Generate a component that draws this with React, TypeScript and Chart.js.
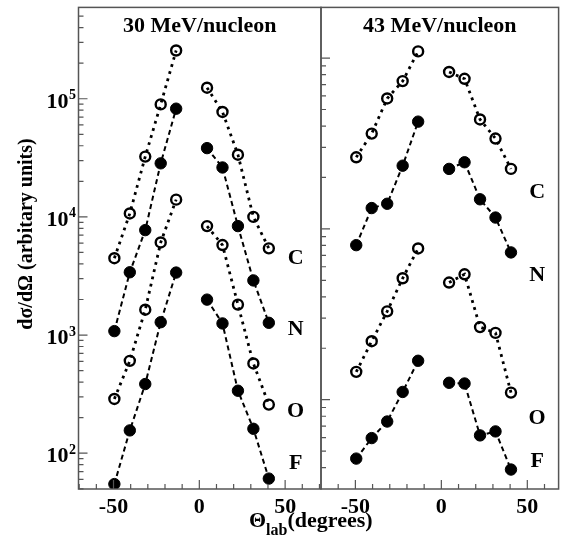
import React, { useEffect, useRef } from 'react';
import { Chart, registerables } from 'chart.js';

Chart.register(...registerables);

const W = 566;
const H = 541;
const FONT = '"Liberation Serif", "Times New Roman", serif';

// scattering angles (degrees, lab)
const angles = [-49.5, -40.5, -31.5, -22.5, -13.5, 4.5, 13.5, 22.5, 31.5, 40.5];
const fragments = ['C', 'N', 'O', 'F'];
const openMarker = [true, false, true, false];

// 30 MeV/nucleon
const c30 = [4470, 10700, 32400, 89600, 256000, 124000, 77300, 33600, 10000, 5420];
const n30 = [1080, 3400, 7730, 28400, 82400, 38200, 26200, 8360, 2900, 1270];
const o30 = [288, 605, 1640, 6080, 14000, 8360, 5780, 1810, 575, 258];
const f30 = [54.8, 156, 385, 1285, 3380, 1995, 1254, 338, 161, 61];

// 43 MeV/nucleon (arbitrary units)
const c43 = [2625, 3613, 5800, 7330, 10940, 8290, 7560, 4370, 3380, 2245];
const n43 = [803, 1324, 1403, 2344, 4245, 2245, 2455, 1490, 1165, 728];
const o43 = [145.5, 220, 329, 514, 768, 485, 542, 266, 246, 110];
const f43 = [45.2, 59.6, 74.5, 111, 169, 125.6, 124.4, 61.8, 65.2, 39];

// axis ticks
const xTickValues = [-70, -60, -50, -40, -30, -20, -10, 0, 10, 20, 30, 40, 50, 60, 70];
const xLabelValues = [-50, 0, 50];
const yLabelExponents = [2, 3, 4, 5];

// fragment label annotations (data coords)
const labelX30 = 56.1;
const labelY30 = [4480, 1122, 227, 81.6];
const labelX43 = 55.7;
const labelY43 = [1641, 533, 77.6, 43.6];

type Panel = {
  title: string;
  series: number[][];
  xMin: number;
  xMax: number;
  yMin: number;
  yMax: number;
  padLeft: number;
  padRight: number;
  yWidth: number;
  labelX: number;
  labelY: number[];
  main: boolean;
};

const panels: Panel[] = [
  {
    title: '30 MeV/nucleon',
    series: [c30, n30, o30, f30],
    xMin: -70.4,
    xMax: 70.9,
    yMin: 49.8,
    yMax: 593000,
    padLeft: 0,
    padRight: W - 321,
    yWidth: 78.5,
    labelX: labelX30,
    labelY: labelY30,
    main: true,
  },
  {
    title: '43 MeV/nucleon',
    series: [c43, n43, o43, f43],
    xMin: -70,
    xMax: 68.2,
    yMin: 30,
    yMax: 19800,
    padLeft: 321,
    padRight: W - 560.7,
    yWidth: 0,
    labelX: labelX43,
    labelY: labelY43,
    main: false,
  },
];

function makeDecor(panel: Panel) {
  return {
    id: 'decor',
    afterDraw(chart: any) {
      const { ctx, chartArea: a } = chart;
      const x = chart.scales.x;
      const y = chart.scales.y;
      ctx.save();
      // frame
      ctx.strokeStyle = '#555';
      ctx.lineWidth = 1.5;
      ctx.strokeRect(a.left, a.top, a.right - a.left, a.bottom - a.top);
      // inward ticks
      ctx.lineWidth = 1.2;
      ctx.beginPath();
      xTickValues.forEach((v) => {
        if (v <= x.min || v >= x.max) return;
        const px = x.getPixelForValue(v);
        const len = xLabelValues.includes(v) ? 9 : 5;
        ctx.moveTo(px, a.bottom);
        ctx.lineTo(px, a.bottom - len);
      });
      const k0 = Math.floor(Math.log10(panel.yMin));
      const k1 = Math.ceil(Math.log10(panel.yMax));
      for (let k = k0; k <= k1; k++) {
        for (let m = 1; m <= 9; m++) {
          const v = m * Math.pow(10, k);
          if (v <= panel.yMin || v >= panel.yMax) continue;
          const py = y.getPixelForValue(v);
          const len = m === 1 ? 9 : 5;
          ctx.moveTo(a.left, py);
          ctx.lineTo(a.left + len, py);
        }
      }
      ctx.stroke();

      ctx.fillStyle = '#000';
      // panel title
      ctx.font = `bold 22px ${FONT}`;
      ctx.textAlign = 'center';
      ctx.textBaseline = 'alphabetic';
      ctx.fillText(panel.title, (a.left + a.right) / 2, a.top + 24.5);

      // fragment labels
      ctx.font = `bold 22px ${FONT}`;
      ctx.textBaseline = 'middle';
      fragments.forEach((f, i) => {
        ctx.fillText(f, x.getPixelForValue(panel.labelX), y.getPixelForValue(panel.labelY[i]));
      });

      if (panel.main) {
        // y tick labels 10^n
        ctx.textBaseline = 'alphabetic';
        yLabelExponents.forEach((e) => {
          const py = y.getPixelForValue(Math.pow(10, e));
          ctx.font = `bold 22px ${FONT}`;
          ctx.textAlign = 'right';
          ctx.fillText('10', a.left - 10, py + 8.8);
          ctx.font = `bold 14px ${FONT}`;
          ctx.textAlign = 'left';
          ctx.fillText(String(e), a.left - 9.6, py + 0.5);
        });
        // y title
        ctx.save();
        ctx.translate(32, 234);
        ctx.rotate(-Math.PI / 2);
        ctx.font = `bold 20px ${FONT}`;
        ctx.textAlign = 'center';
        ctx.fillText('d\u03C3/d\u03A9 (arbitary units)', 0, 0);
        ctx.restore();
        // x title
        ctx.textAlign = 'left';
        let cx = 249;
        ctx.font = `bold 22px ${FONT}`;
        ctx.fillText('\u0398', cx, 526.5);
        cx += ctx.measureText('\u0398').width;
        ctx.font = `bold 16px ${FONT}`;
        ctx.fillText('lab', cx, 534.5);
        cx += ctx.measureText('lab').width;
        ctx.font = `bold 22px ${FONT}`;
        ctx.fillText('(degrees)', cx, 526.5);
      }
      ctx.restore();
    },
  };
}

function makeConfig(panel: Panel): any {
  const datasets = panel.series.map((vals, si) => {
    const open = openMarker[si];
    return {
      label: fragments[si],
      data: angles.map((a, i) => ({ x: a, y: vals[i] })),
      borderColor: '#000',
      borderWidth: open ? 2.8 : 2,
      borderDash: open ? [2.8, 4.6] : [5, 3.5],
      pointRadius: open ? 5 : 5.7,
      pointBorderWidth: open ? 2.4 : 1,
      pointBackgroundColor: open ? 'rgba(0,0,0,0)' : '#000',
      pointBorderColor: '#000',
      fill: false,
      tension: 0,
      segment: {
        borderColor: (ctx: any) =>
          ctx.p0.parsed.x < 0 && ctx.p1.parsed.x > 0 ? 'rgba(0,0,0,0)' : '#000',
      },
    };
  });
  return {
    type: 'line',
    data: { datasets },
    options: {
      responsive: false,
      animation: false,
      devicePixelRatio: 1,
      layout: { padding: { left: panel.padLeft, right: panel.padRight, top: 4, bottom: 0 } },
      plugins: { legend: { display: false }, tooltip: { enabled: false } },
      scales: {
        x: {
          type: 'linear',
          min: panel.xMin,
          max: panel.xMax,
          grid: { display: false, drawTicks: false, tickLength: 0 },
          border: { display: false },
          afterBuildTicks: (axis: any) => {
            axis.ticks = xTickValues
              .filter((v) => v >= panel.xMin && v <= panel.xMax)
              .map((v) => ({ value: v }));
          },
          afterFit: (axis: any) => {
            axis.height = 52;
          },
          ticks: {
            autoSkip: false,
            maxRotation: 0,
            padding: 5,
            color: '#000',
            font: { family: FONT, size: 22, weight: 'bold' },
            callback: (v: number) => (xLabelValues.includes(v) ? String(v) : ''),
          },
        },
        y: {
          type: 'logarithmic',
          min: panel.yMin,
          max: panel.yMax,
          grid: { display: false, drawTicks: false },
          border: { display: false },
          ticks: { display: false },
          afterFit: (axis: any) => {
            axis.width = panel.yWidth;
          },
        },
      },
    },
    plugins: [makeDecor(panel)],
  };
}

function PanelCanvas({ panel }: { panel: Panel }) {
  const ref = useRef<HTMLCanvasElement | null>(null);
  useEffect(() => {
    if (!ref.current) return;
    const chart = new Chart(ref.current, makeConfig(panel));
    return () => chart.destroy();
  }, [panel]);
  return (
    <canvas
      ref={ref}
      width={W}
      height={H}
      style={{ position: 'absolute', left: 0, top: 0, width: W, height: H }}
    />
  );
}

export default function App() {
  return (
    <div style={{ position: 'fixed', left: 0, top: 0, width: W, height: H, background: '#fff' }}>
      {panels.map((p) => (
        <PanelCanvas key={p.title} panel={p} />
      ))}
    </div>
  );
}
